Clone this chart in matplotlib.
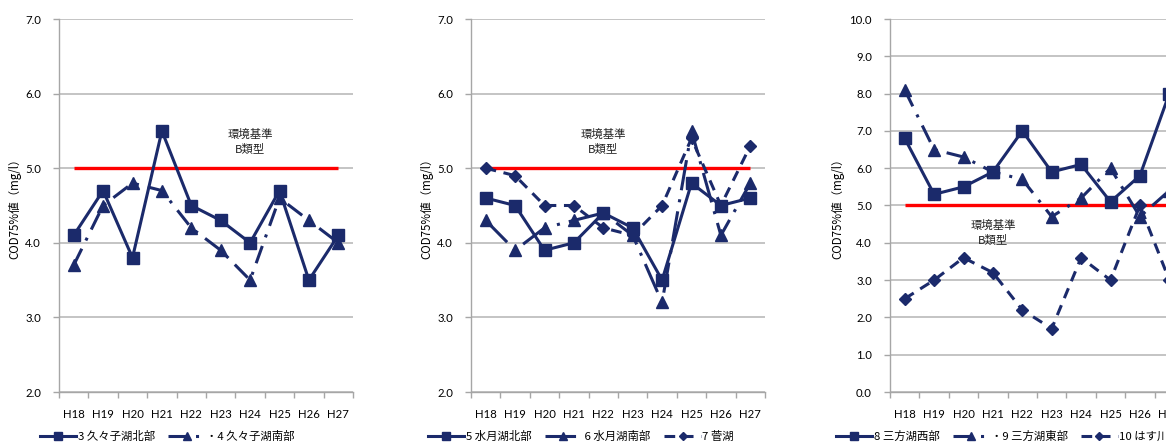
import matplotlib
matplotlib.use("Agg")
import matplotlib.pyplot as plt
from matplotlib.ticker import MultipleLocator, FixedLocator

plt.rcParams['font.family'] = ['Noto Sans CJK JP', 'DejaVu Sans']

years = ['H18', 'H19', 'H20', 'H21', 'H22', 'H23', 'H24', 'H25', 'H26', 'H27']

s3_kugushi_north = [4.1, 4.7, 3.8, 5.5, 4.5, 4.3, 4.0, 4.7, 3.5, 4.1]
s4_kugushi_south = [3.7, 4.5, 4.8, 4.7, 4.2, 3.9, 3.5, 4.6, 4.3, 4.0]

s5_suigetsu_north = [4.6, 4.5, 3.9, 4.0, 4.4, 4.2, 3.5, 4.8, 4.5, 4.6]
s6_suigetsu_south = [4.3, 3.9, 4.2, 4.3, 4.4, 4.1, 3.2, 5.5, 4.1, 4.8]
s7_suga = [5.0, 4.9, 4.5, 4.5, 4.2, 4.1, 4.5, 5.4, 4.5, 5.3]

s8_mikata_west = [6.8, 5.3, 5.5, 5.9, 7.0, 5.9, 6.1, 5.1, 5.8, 8.0]
s9_mikata_east = [8.1, 6.5, 6.3, 5.9, 5.7, 4.7, 5.2, 6.0, 4.7, 5.4]
s10_hasu = [2.5, 3.0, 3.6, 3.2, 2.2, 1.7, 3.6, 3.0, 5.0, 3.0]

standard_value = 5.0
standard_label = '環境基準\nB類型'
ylabel = 'COD75%値（mg/l）'

NAVY = '#1B2A6B'
GRID = '#BFBFBF'
SPINE = '#A6A6A6'

W, H = 1166, 444
fig = plt.figure(figsize=(W / 100, H / 100), dpi=100)

styles = {
    'square': dict(marker='s', markersize=8.5, linestyle='-'),
    'tri_dd': dict(marker='^', markersize=8.5, linestyle=(0, (6, 3, 1, 3))),
    'tri_ld': dict(marker='^', markersize=8.5, linestyle=(0, (10, 3, 1, 3))),
    'diamond': dict(marker='D', markersize=6.0, linestyle=(0, (3.5, 2.5))),
}

panels = [
    dict(left=59, ymin=2.0, ymax=7.0, step=1.0,
         series=[(s3_kugushi_north, '3 久々子湖北部', 'square'),
                 (s4_kugushi_south, '・4 久々子湖南部', 'tri_dd')],
         text_xy=(6.0, 5.36), ylabel_x=15, leg_x=40),
    dict(left=471, ymin=2.0, ymax=7.0, step=1.0,
         series=[(s5_suigetsu_north, '5 水月湖北部', 'square'),
                 (s6_suigetsu_south, ' 6 水月湖南部', 'tri_ld'),
                 (s7_suga, '7 菅湖', 'diamond')],
         text_xy=(4.0, 5.36), ylabel_x=427, leg_x=428),
    dict(left=890, ymin=0.0, ymax=10.0, step=1.0,
         series=[(s8_mikata_west, '8 三方湖西部', 'square'),
                 (s9_mikata_east, '・9 三方湖東部', 'tri_dd'),
                 (s10_hasu, '10 はす川', 'diamond')],
         text_xy=(3.0, 4.27), ylabel_x=838, leg_x=836),
]

ax_w, ax_top, ax_bot = 294, 19, 392
for p in panels:
    ax = fig.add_axes([p['left'] / W, (H - ax_bot) / H, ax_w / W, (ax_bot - ax_top) / H])
    x = list(range(len(years)))
    ax.set_xlim(-0.5, len(years) - 0.5)
    ax.set_ylim(p['ymin'], p['ymax'])
    ax.yaxis.set_major_locator(MultipleLocator(p['step']))
    ax.yaxis.set_major_formatter(matplotlib.ticker.FormatStrFormatter('%.1f'))
    ax.grid(axis='y', color=GRID, linewidth=1.3)
    ax.set_axisbelow(True)
    for sp in ['top', 'right']:
        ax.spines[sp].set_visible(False)
    for sp in ['left', 'bottom']:
        ax.spines[sp].set_color(SPINE)
        ax.spines[sp].set_linewidth(1.0)
    ax.set_xticks(x)
    ax.set_xticklabels(years, fontfamily=['Lato', 'DejaVu Sans'], fontsize=8.2)
    ax.tick_params(axis='x', which='major', length=0, pad=12)
    ax.xaxis.set_minor_locator(FixedLocator([i - 0.5 for i in range(len(years) + 1)]))
    ax.tick_params(axis='x', which='minor', length=4, color=SPINE, width=1.0)
    ax.tick_params(axis='y', length=4, color=SPINE, width=1.0, labelsize=8.2, pad=9)
    for lab in ax.get_yticklabels():
        lab.set_fontfamily(['Lato', 'DejaVu Sans'])

    ax.plot([x[0], x[-1]], [standard_value, standard_value], color='#FF0000',
            linewidth=2.4, zorder=2, solid_capstyle='butt')
    handles = []
    for vals, label, st in p['series']:
        h, = ax.plot(x, vals, color=NAVY, linewidth=2.2, label=label, zorder=3,
                     markerfacecolor=NAVY, markeredgecolor=NAVY, **styles[st])
        handles.append(h)
    ax.text(p['text_xy'][0], p['text_xy'][1], standard_label, ha='center', va='center',
            fontsize=8.2, linespacing=1.4, color='#222222', zorder=4)
    fig.text(p['ylabel_x'] / W, (H - 206) / H, ylabel, rotation=90, ha='center',
             va='center', fontsize=8.3)
    fig.legend(handles=handles, loc='center left',
               bbox_to_anchor=(p['leg_x'] / W, 8 / H), ncol=len(handles),
               frameon=False, fontsize=8.2, handlelength=3.2, handletextpad=0.1,
               columnspacing=1.2, borderaxespad=0, borderpad=0, markerscale=0.75)

fig.savefig('out.png', dpi=100)
